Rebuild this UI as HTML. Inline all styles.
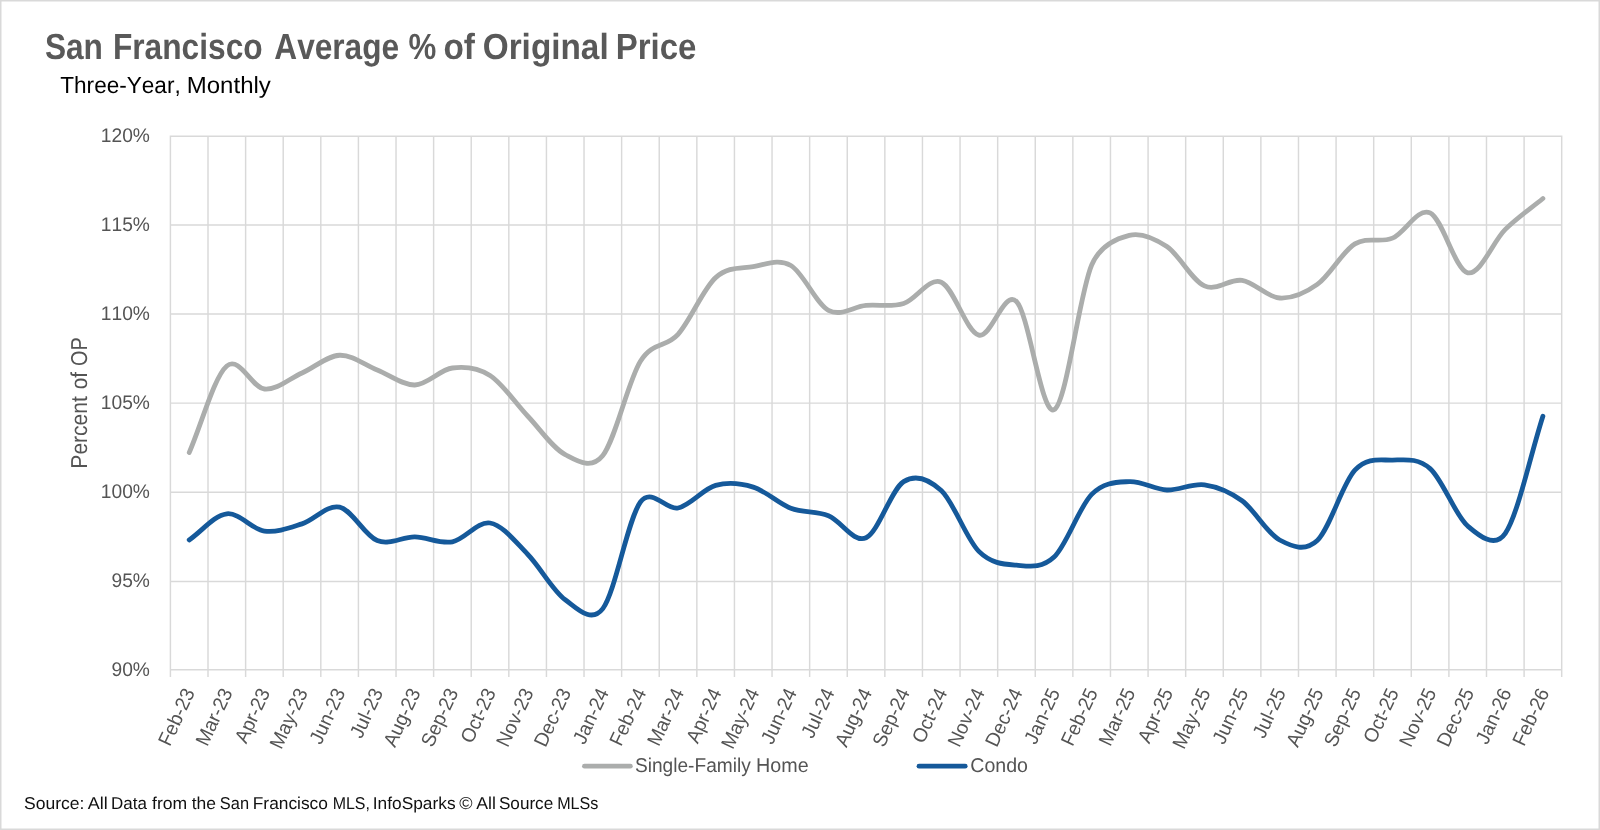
<!DOCTYPE html><html lang="en"><head><meta charset="utf-8"><title>San Francisco Average % of Original Price</title>
<style>html,body{margin:0;padding:0;background:#fff;}svg{display:block}svg{will-change:transform}text{font-family:"Liberation Sans",sans-serif;font-kerning:none;white-space:pre;text-rendering:geometricPrecision}.t{filter:grayscale(1)}</style></head><body>
<svg width="1600" height="830" viewBox="0 0 1600 830">
<rect x="0" y="0" width="1600" height="830" fill="#fff"/>
<path d="M0 0H1600V830H0Z M1.5 1.5V828.5H1598.5V1.5Z" fill="#d9d9d9" fill-rule="evenodd"/>
<path d="M170.40 136.25H1561.70M170.40 225.00H1561.70M170.40 314.00H1561.70M170.40 403.10H1561.70M170.40 492.25H1561.70M170.40 581.40H1561.70M170.40 669.70H1561.70M170.40 136.25V676.20M208.00 136.25V676.20M245.61 136.25V676.20M283.21 136.25V676.20M320.81 136.25V676.20M358.41 136.25V676.20M396.02 136.25V676.20M433.62 136.25V676.20M471.22 136.25V676.20M508.82 136.25V676.20M546.43 136.25V676.20M584.03 136.25V676.20M621.63 136.25V676.20M659.24 136.25V676.20M696.84 136.25V676.20M734.44 136.25V676.20M772.04 136.25V676.20M809.65 136.25V676.20M847.25 136.25V676.20M884.85 136.25V676.20M922.45 136.25V676.20M960.06 136.25V676.20M997.66 136.25V676.20M1035.26 136.25V676.20M1072.86 136.25V676.20M1110.47 136.25V676.20M1148.07 136.25V676.20M1185.67 136.25V676.20M1223.28 136.25V676.20M1260.88 136.25V676.20M1298.48 136.25V676.20M1336.08 136.25V676.20M1373.69 136.25V676.20M1411.29 136.25V676.20M1448.89 136.25V676.20M1486.49 136.25V676.20M1524.10 136.25V676.20M1561.70 136.25V676.20" stroke="#d9d9d9" stroke-width="1.45" fill="none" stroke-linecap="square"/>
<g class="t" font-size="19.8" fill="#545454">
<text transform="translate(100.79 142) scale(0.9705 1)">120%</text>
<text transform="translate(100.79 231) scale(0.9705 1)">115%</text>
<text transform="translate(100.79 320) scale(0.9705 1)">110%</text>
<text transform="translate(100.79 409) scale(0.9705 1)">105%</text>
<text transform="translate(100.79 498) scale(0.9705 1)">100%</text>
<text transform="translate(111.47 587) scale(0.9705 1)">95%</text>
<text transform="translate(111.47 676) scale(0.9705 1)">90%</text>
<text transform="translate(195.40 692.20) rotate(-65) scale(0.9700 1) translate(-62.74 0)">Feb-23</text>
<text transform="translate(233.02 692.20) rotate(-65) scale(0.9700 1) translate(-62.72 0)">Mar-23</text>
<text transform="translate(270.64 692.20) rotate(-65) scale(0.9700 1) translate(-59.43 0)">Apr-23</text>
<text transform="translate(308.26 692.20) rotate(-65) scale(0.9700 1) translate(-66.02 0)">May-23</text>
<text transform="translate(345.88 692.20) rotate(-65) scale(0.9700 1) translate(-60.54 0)">Jun-23</text>
<text transform="translate(383.50 692.20) rotate(-65) scale(0.9700 1) translate(-53.93 0)">Jul-23</text>
<text transform="translate(421.12 692.20) rotate(-65) scale(0.9700 1) translate(-63.85 0)">Aug-23</text>
<text transform="translate(458.74 692.20) rotate(-65) scale(0.9700 1) translate(-63.85 0)">Sep-23</text>
<text transform="translate(496.36 692.20) rotate(-65) scale(0.9700 1) translate(-59.42 0)">Oct-23</text>
<text transform="translate(533.98 692.20) rotate(-65) scale(0.9700 1) translate(-63.83 0)">Nov-23</text>
<text transform="translate(571.60 692.20) rotate(-65) scale(0.9700 1) translate(-63.83 0)">Dec-23</text>
<text transform="translate(609.21 692.20) rotate(-65) scale(0.9700 1) translate(-60.54 0)">Jan-24</text>
<text transform="translate(646.83 692.20) rotate(-65) scale(0.9700 1) translate(-62.74 0)">Feb-24</text>
<text transform="translate(684.45 692.20) rotate(-65) scale(0.9700 1) translate(-62.72 0)">Mar-24</text>
<text transform="translate(722.07 692.20) rotate(-65) scale(0.9700 1) translate(-59.43 0)">Apr-24</text>
<text transform="translate(759.69 692.20) rotate(-65) scale(0.9700 1) translate(-66.02 0)">May-24</text>
<text transform="translate(797.31 692.20) rotate(-65) scale(0.9700 1) translate(-60.54 0)">Jun-24</text>
<text transform="translate(834.93 692.20) rotate(-65) scale(0.9700 1) translate(-53.93 0)">Jul-24</text>
<text transform="translate(872.55 692.20) rotate(-65) scale(0.9700 1) translate(-63.85 0)">Aug-24</text>
<text transform="translate(910.17 692.20) rotate(-65) scale(0.9700 1) translate(-63.85 0)">Sep-24</text>
<text transform="translate(947.79 692.20) rotate(-65) scale(0.9700 1) translate(-59.42 0)">Oct-24</text>
<text transform="translate(985.41 692.20) rotate(-65) scale(0.9700 1) translate(-63.83 0)">Nov-24</text>
<text transform="translate(1023.03 692.20) rotate(-65) scale(0.9700 1) translate(-63.83 0)">Dec-24</text>
<text transform="translate(1060.65 692.20) rotate(-65) scale(0.9700 1) translate(-60.54 0)">Jan-25</text>
<text transform="translate(1098.27 692.20) rotate(-65) scale(0.9700 1) translate(-62.74 0)">Feb-25</text>
<text transform="translate(1135.89 692.20) rotate(-65) scale(0.9700 1) translate(-62.72 0)">Mar-25</text>
<text transform="translate(1173.50 692.20) rotate(-65) scale(0.9700 1) translate(-59.43 0)">Apr-25</text>
<text transform="translate(1211.12 692.20) rotate(-65) scale(0.9700 1) translate(-66.02 0)">May-25</text>
<text transform="translate(1248.74 692.20) rotate(-65) scale(0.9700 1) translate(-60.54 0)">Jun-25</text>
<text transform="translate(1286.36 692.20) rotate(-65) scale(0.9700 1) translate(-53.93 0)">Jul-25</text>
<text transform="translate(1323.98 692.20) rotate(-65) scale(0.9700 1) translate(-63.85 0)">Aug-25</text>
<text transform="translate(1361.60 692.20) rotate(-65) scale(0.9700 1) translate(-63.85 0)">Sep-25</text>
<text transform="translate(1399.22 692.20) rotate(-65) scale(0.9700 1) translate(-59.42 0)">Oct-25</text>
<text transform="translate(1436.84 692.20) rotate(-65) scale(0.9700 1) translate(-63.83 0)">Nov-25</text>
<text transform="translate(1474.46 692.20) rotate(-65) scale(0.9700 1) translate(-63.83 0)">Dec-25</text>
<text transform="translate(1512.08 692.20) rotate(-65) scale(0.9700 1) translate(-60.54 0)">Jan-26</text>
<text transform="translate(1549.70 692.20) rotate(-65) scale(0.9700 1) translate(-62.74 0)">Feb-26</text>
</g>
<g class="t" font-size="23" fill="#545454" transform="translate(86.5 466.9) rotate(-90)">
<text transform="translate(-1.73 0.00) scale(0.9144 1)">Percent</text>
<text transform="translate(77.63 0.00) scale(0.9041 1)">of</text>
<text transform="translate(100.96 0.00) scale(0.8600 1)">OP</text>
</g>
<path d="M189.20 452.60 C201.74 423.73 214.27 376.60 226.80 366.00 C239.34 355.40 251.87 387.83 264.41 389.00 C276.94 390.17 289.48 378.62 302.01 373.00 C314.54 367.38 327.08 355.75 339.61 355.25 C352.15 354.75 364.68 365.04 377.21 370.00 C389.75 374.96 402.28 385.33 414.82 385.00 C427.35 384.67 439.89 369.58 452.42 368.00 C464.95 366.42 477.49 367.50 490.02 375.50 C502.56 383.50 515.09 402.82 527.63 416.00 C540.16 429.18 552.69 448.02 565.23 454.60 C577.03 460.80 591.03 470.14 602.83 455.50 C615.37 439.95 627.90 381.50 640.43 361.30 C652.64 341.63 665.83 347.88 678.04 334.30 C690.57 320.35 703.10 288.88 715.64 277.60 C728.17 266.32 740.71 268.62 753.24 266.60 C765.78 264.58 778.31 258.22 790.84 265.50 C803.38 272.78 815.91 303.65 828.45 310.30 C840.98 316.95 853.52 306.53 866.05 305.40 C878.58 304.27 891.12 307.37 903.65 303.50 C916.19 299.63 928.72 276.93 941.26 282.20 C953.79 287.47 966.32 331.88 978.86 335.10 C991.39 338.32 1003.93 289.07 1016.46 301.50 C1029.00 313.93 1041.53 415.78 1054.06 409.70 C1066.60 403.62 1079.13 294.07 1091.67 265.00 C1101.15 243.00 1119.78 237.62 1129.27 235.30 C1141.80 232.23 1154.34 238.17 1166.87 246.60 C1179.41 255.03 1191.94 280.27 1204.47 285.90 C1217.01 291.53 1229.54 278.38 1242.08 280.40 C1254.61 282.42 1267.15 297.33 1279.68 298.00 C1292.21 298.67 1304.75 293.42 1317.28 284.40 C1329.82 275.38 1342.35 251.62 1354.89 243.90 C1367.42 236.18 1379.95 243.27 1392.49 238.10 C1405.02 232.93 1417.56 207.12 1430.09 212.90 C1442.62 218.68 1455.16 270.05 1467.69 272.80 C1480.23 275.55 1492.76 241.78 1505.30 229.40 C1517.83 217.02 1530.36 208.80 1542.90 198.50" stroke="#abadac" stroke-width="4.8" fill="none" stroke-linecap="round" stroke-linejoin="round"/>
<path d="M189.20 540.00 C201.74 531.27 214.27 515.28 226.80 513.80 C239.34 512.32 251.87 529.42 264.41 531.10 C276.94 532.78 289.48 527.90 302.01 523.90 C314.54 519.90 327.08 504.32 339.61 507.10 C352.15 509.88 364.68 535.63 377.21 540.60 C389.75 545.57 402.28 536.70 414.82 536.90 C427.35 537.10 439.89 544.12 452.42 541.80 C464.95 539.48 477.49 520.93 490.02 523.00 C502.56 525.07 515.09 541.42 527.63 554.20 C540.16 566.98 552.69 590.63 565.23 599.70 C577.01 608.22 591.05 623.91 602.83 608.60 C615.37 592.32 627.90 518.77 640.43 502.00 C651.83 486.75 666.64 510.52 678.04 508.00 C690.57 505.23 703.10 488.88 715.64 485.40 C728.17 481.92 740.71 483.28 753.24 487.10 C765.78 490.92 778.31 503.52 790.84 508.30 C803.38 513.08 815.91 510.88 828.45 515.80 C840.98 520.72 853.52 543.50 866.05 537.80 C878.58 532.10 891.12 489.47 903.65 481.60 C916.19 473.73 928.72 478.97 941.26 490.60 C953.79 502.23 966.32 538.97 978.86 551.40 C991.39 563.83 1003.93 564.25 1016.46 565.20 C1029.00 566.15 1041.53 568.90 1054.06 557.10 C1066.60 545.30 1079.13 506.98 1091.67 494.40 C1104.20 481.82 1116.73 482.33 1129.27 481.60 C1141.80 480.87 1154.34 489.47 1166.87 490.00 C1179.41 490.53 1191.94 483.00 1204.47 484.80 C1217.01 486.60 1229.54 491.60 1242.08 500.80 C1254.61 510.00 1267.15 533.38 1279.68 540.00 C1292.21 546.62 1304.75 552.13 1317.28 540.50 C1329.82 528.87 1342.35 483.60 1354.89 470.20 C1367.42 456.80 1379.95 460.37 1392.49 460.10 C1405.02 459.83 1417.56 457.62 1430.09 468.60 C1442.62 479.58 1455.16 515.22 1467.69 526.00 C1478.52 535.31 1494.47 549.10 1505.30 533.30 C1517.83 515.00 1530.36 455.23 1542.90 416.20" stroke="#15599a" stroke-width="4.8" fill="none" stroke-linecap="round" stroke-linejoin="round"/>
<g class="t" font-size="36.3" font-weight="bold" fill="#575959">
<text transform="translate(44.89 59.00) scale(0.8708 1)">San</text>
<text transform="translate(112.88 59.00) scale(0.8733 1)">Francisco</text>
<text transform="translate(274.31 59.00) scale(0.8709 1)">Average</text>
<text transform="translate(408.42 59.00) scale(0.8614 1)">%</text>
<text transform="translate(443.40 59.00) scale(0.9175 1)">of</text>
<text transform="translate(482.73 59.00) scale(0.9181 1)">Original</text>
<text transform="translate(615.80 59.00) scale(0.9080 1)">Price</text>
</g>
<g class="t" font-size="23.4" fill="#000">
<text transform="translate(60.29 93.00) scale(0.9646 1)">Three-Year,</text>
<text transform="translate(186.78 93.00) scale(1.0260 1)">Monthly</text>
</g>
<path d="M584.45 766.2H630.35" stroke="#abadac" stroke-width="4.8" stroke-linecap="round"/>
<path d="M919.00 766.2H965.20" stroke="#15599a" stroke-width="4.8" stroke-linecap="round"/>
<g class="t" font-size="19.9" fill="#545454">
<text transform="translate(634.88 772.00) scale(0.9620 1)">Single-Family</text>
<text transform="translate(756.08 772.00) scale(0.9908 1)">Home</text>
<text transform="translate(970.31 772.00) scale(0.9842 1)">Condo</text>
</g>
<g class="t" font-size="17.2" fill="#111">
<text transform="translate(23.95 809.40) scale(1.0198 1)">Source:</text>
<text transform="translate(87.71 809.40) scale(1.0457 1)">All</text>
<text transform="translate(111.11 809.40) scale(0.9880 1)">Data</text>
<text transform="translate(152.00 809.40) scale(1.0220 1)">from</text>
<text transform="translate(191.74 809.40) scale(1.0159 1)">the</text>
<text transform="translate(219.85 809.40) scale(0.9545 1)">San</text>
<text transform="translate(252.78 809.40) scale(1.0087 1)">Francisco</text>
<text transform="translate(332.69 809.40) scale(0.9277 1)">MLS,</text>
<text transform="translate(372.80 809.40) scale(1.0073 1)">InfoSparks</text>
<text transform="translate(459.23 809.40) scale(1.0499 1)">©</text>
<text transform="translate(476.27 809.40) scale(1.0290 1)">All</text>
<text transform="translate(498.92 809.40) scale(0.9971 1)">Source</text>
<text transform="translate(557.18 809.40) scale(0.9372 1)">MLSs</text>
</g>
</svg></body></html>
